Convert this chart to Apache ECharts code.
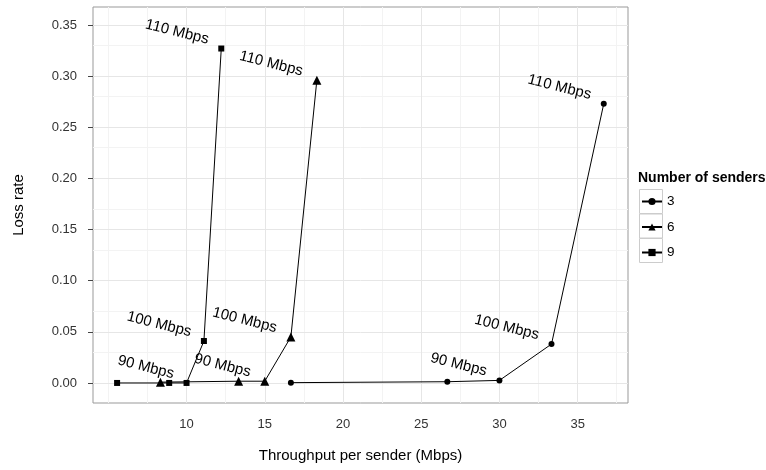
<!DOCTYPE html>
<html>
<head>
<meta charset="utf-8">
<script src="https://cdn.jsdelivr.net/npm/echarts@6/dist/echarts.min.js"></script>
<style>
  html, body { margin: 0; padding: 0; background: #fff; }
  #chart { width: 766px; height: 470px; }
</style>
</head>
<body>
<div id="chart"></div>
<script>
// senders per run and the offered rate for each point
const senders = ["3", "6", "9"];
const rateLabels = ["50 Mbps", "80 Mbps", "90 Mbps", "100 Mbps", "110 Mbps"];
const labelShown = [false, false, true, true, true];

// throughput per sender (Mbps) and loss rate
const throughput3 = [16.67, 26.67, 30.0, 33.33, 36.67];
const loss3 = [0.0003, 0.0012, 0.0025, 0.038, 0.273];
const throughput6 = [8.33, 13.33, 15.0, 16.67, 18.33];
const loss6 = [0.0008, 0.0017, 0.0017, 0.045, 0.296];
const throughput9 = [5.56, 8.89, 10.0, 11.11, 12.22];
const loss9 = [0.0, 0.0, 0.0, 0.041, 0.327];

// axis ticks and grid lines
const xTicks = [10, 15, 20, 25, 30, 35];
const xMinor = [5, 7.5, 12.5, 17.5, 22.5, 27.5, 32.5, 37.5];
const yTicks = [0, 0.05, 0.1, 0.15, 0.2, 0.25, 0.3, 0.35];
const yMinor = [0.025, 0.075, 0.125, 0.175, 0.225, 0.275, 0.325];

const FONT = "Liberation Sans, Arial, Helvetica, sans-serif";

function buildData(xs, ys) {
  return xs.map(function (x, i) {
    return {
      value: [x, ys[i]],
      label: { show: labelShown[i], formatter: rateLabels[i] }
    };
  });
}

function lineSeries(name, symbol, size, xs, ys) {
  return {
    name: name,
    type: "line",
    z: 3,
    symbol: symbol,
    symbolSize: size,
    showSymbol: true,
    lineStyle: { color: "#000", width: 1 },
    itemStyle: { color: "#000" },
    label: {
      position: "left",
      distance: 12,
      rotate: -14,
      offset: [0, -9],
      fontSize: 15,
      fontFamily: FONT,
      color: "#000"
    },
    emphasis: { disabled: true },
    data: buildData(xs, ys)
  };
}

function gridLines(values, key, color) {
  return values.map(function (v) {
    const d = {};
    d[key] = v;
    d.lineStyle = { color: color, width: 1, type: "solid" };
    return d;
  });
}

const myChart = echarts.init(document.getElementById("chart"));
myChart.setOption({
  animation: false,
  textStyle: { fontFamily: FONT },
  title: {
    text: "Number of senders",
    left: 638,
    top: 171,
    padding: 0,
    textStyle: { fontSize: 14, fontWeight: "bold", color: "#000", fontFamily: FONT }
  },
  legend: {
    data: senders,
    orient: "vertical",
    left: 641,
    top: 194.5,
    padding: 0,
    itemWidth: 20,
    itemHeight: 9,
    itemGap: 11.5,
    textStyle: { fontSize: 13.5, color: "#000", fontFamily: FONT },
    selectedMode: false
  },
  graphic: [0, 1, 2].map(function (i) {
    return {
      type: "rect",
      z: 0,
      silent: true,
      shape: { x: 639.5, y: 189.5 + i * 24.5, width: 23, height: 24 },
      style: { fill: "#fff", stroke: "#cccccc", lineWidth: 1 }
    };
  }),
  grid: {
    left: 93,
    right: 138,
    top: 7,
    bottom: 67,
    show: true,
    borderColor: "#999",
    borderWidth: 1,
    backgroundColor: "#fff"
  },
  xAxis: {
    type: "value",
    min: 4.02,
    max: 38.22,
    name: "Throughput per sender (Mbps)",
    nameLocation: "middle",
    nameGap: 45,
    nameTextStyle: { fontSize: 15, color: "#000", fontFamily: FONT },
    axisLine: { show: false },
    axisTick: { show: true, length: 5, customValues: xTicks, lineStyle: { color: "#444" } },
    axisLabel: { customValues: xTicks, margin: 15, fontSize: 13, color: "#333", fontFamily: FONT },
    splitLine: { show: false }
  },
  yAxis: {
    type: "value",
    min: -0.0196,
    max: 0.3676,
    name: "Loss rate",
    nameLocation: "middle",
    nameGap: 67,
    nameRotate: 90,
    nameTextStyle: { fontSize: 15, color: "#000", fontFamily: FONT },
    axisLine: { show: false },
    axisTick: { show: true, length: 5, customValues: yTicks, lineStyle: { color: "#444" } },
    axisLabel: {
      customValues: yTicks,
      margin: 16,
      fontSize: 13,
      color: "#333",
      fontFamily: FONT,
      formatter: function (v) { return v.toFixed(2); }
    },
    splitLine: { show: false }
  },
  series: [
    {
      name: "grid",
      type: "line",
      z: 1,
      data: [],
      silent: true,
      markLine: {
        silent: true,
        z: 1,
        symbol: ["none", "none"],
        label: { show: false },
        emphasis: { disabled: true },
        animation: false,
        data: [].concat(
          gridLines(xMinor, "xAxis", "#f3f3f3"),
          gridLines(yMinor, "yAxis", "#f3f3f3"),
          gridLines(xTicks, "xAxis", "#e6e6e6"),
          gridLines(yTicks, "yAxis", "#e6e6e6")
        )
      }
    },
    lineSeries("3", "circle", 6, throughput3, loss3),
    lineSeries("6", "triangle", 9, throughput6, loss6),
    lineSeries("9", "rect", 6, throughput9, loss9)
  ]
});
</script>
</body>
</html>
